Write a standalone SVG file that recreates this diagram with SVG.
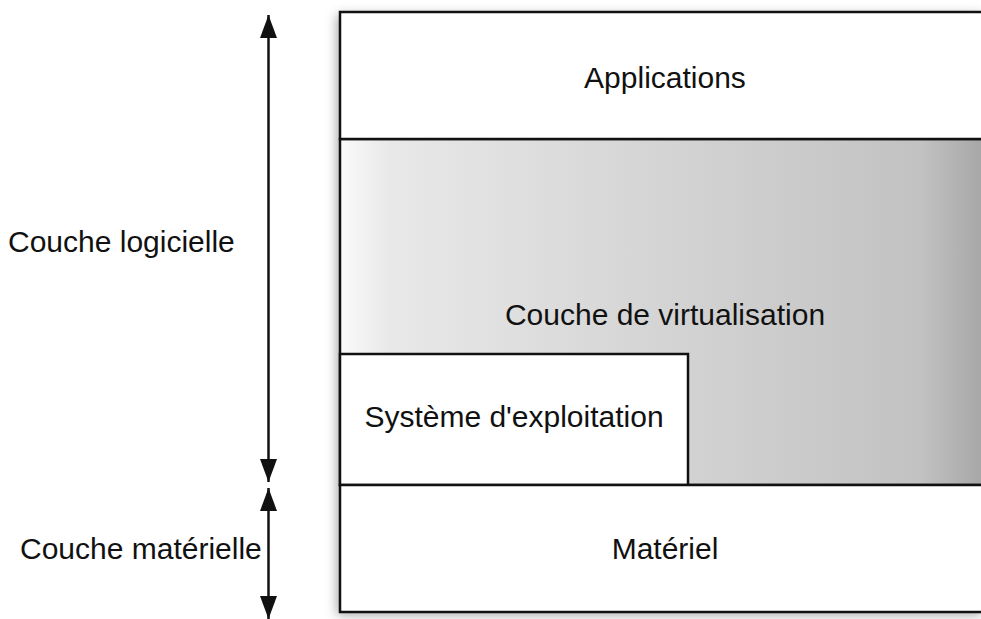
<svg xmlns="http://www.w3.org/2000/svg" width="981" height="619" viewBox="0 0 981 619">
<style>
.box{stroke:#111;stroke-width:2.5;fill:#fff}
.lbl{font-family:"Liberation Sans",Arial,sans-serif;font-size:30px;fill:#111}
.mid{text-anchor:middle}
.arr{stroke:#111;stroke-width:2.5;fill:none}
</style>
<defs>
<linearGradient id="virt" x1="0" y1="0" x2="1" y2="0">
<stop offset="0" stop-color="#fafafa"/>
<stop offset="0.08" stop-color="#e8e8e8"/>
<stop offset="0.5" stop-color="#d4d4d4"/>
<stop offset="0.9" stop-color="#c2c2c2"/>
<stop offset="1" stop-color="#a6a6a6"/>
</linearGradient>
<filter id="sh" x="-10%" y="-10%" width="120%" height="120%">
<feDropShadow dx="-3" dy="3" stdDeviation="6" flood-color="#000" flood-opacity="0.35"/>
</filter>
<marker id="tri" viewBox="0 0 23 17" refX="23" refY="8.5" markerWidth="23" markerHeight="17" markerUnits="userSpaceOnUse" orient="auto">
<path d="M0,0 L23,8.5 L0,17 Z" fill="#111"/>
</marker>
</defs>
<rect x="0" y="0" width="981" height="619" fill="#fff"/>
<rect x="340" y="12" width="645" height="600" fill="#fff" filter="url(#sh)"/>
<g id="virtualisation">
<rect class="box" x="340" y="139" width="645" height="346" style="fill:url(#virt)"/>
<text class="lbl mid" x="665" y="325">Couche de virtualisation</text>
</g>
<g id="applications">
<rect class="box" x="340" y="12" width="645" height="127"/>
<text class="lbl mid" x="665" y="88">Applications</text>
</g>
<g id="os">
<rect class="box" x="340" y="354" width="348" height="131"/>
<text class="lbl mid" x="514" y="427">Système d'exploitation</text>
</g>
<g id="materiel">
<rect class="box" x="340" y="485" width="645" height="127"/>
<text class="lbl mid" x="665" y="559">Matériel</text>
</g>
<g id="couche-logicielle">
<text class="lbl" x="8" y="252">Couche logicielle</text>
</g>
<g id="couche-materielle">
<text class="lbl" x="20" y="559">Couche matérielle</text>
</g>
<g id="connectors">
<line class="arr" x1="268.5" y1="250" x2="268.5" y2="15" marker-end="url(#tri)"/>
<line class="arr" x1="268.5" y1="250" x2="268.5" y2="482" marker-end="url(#tri)"/>
<line class="arr" x1="268.5" y1="550" x2="268.5" y2="488" marker-end="url(#tri)"/>
<line class="arr" x1="268.5" y1="550" x2="268.5" y2="619" marker-end="url(#tri)"/>
</g>
</svg>
